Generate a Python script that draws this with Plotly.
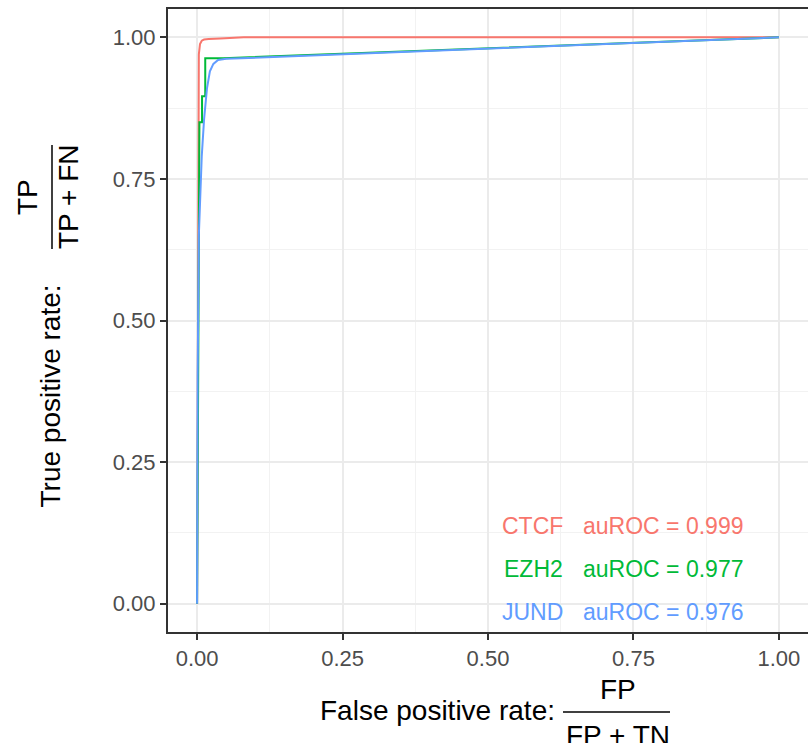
import plotly.graph_objects as go

# ---- data ----
CTCF_fpr = [0.0, 0.002, 0.003, 0.005, 0.008, 0.012, 0.02, 0.04, 0.08, 1.0]
CTCF_tpr = [0.0, 0.90, 0.97, 0.988, 0.994, 0.996, 0.997, 0.998, 1.0, 1.0]

EZH2_fpr = [0.0, 0.003, 0.004, 0.0085, 0.0085, 0.014, 0.014, 0.045, 1.0]
EZH2_tpr = [0.0, 0.60, 0.85, 0.85, 0.896, 0.896, 0.963, 0.963, 1.0]

JUND_fpr = [0.0, 0.001, 0.003, 0.005, 0.008, 0.012, 0.017, 0.022, 0.028, 0.036, 0.05, 1.0]
JUND_tpr = [0.0, 0.40, 0.65, 0.72, 0.79, 0.855, 0.91, 0.94, 0.953, 0.960, 0.962, 1.0]

series_names = ["CTCF", "EZH2", "JUND"]
auroc_values = ["0.999", "0.977", "0.976"]
label_y = [0.1375, 0.0606, -0.0154]
colors = ["#F8766D", "#00BA38", "#619CFF"]
tick_vals = [0.0, 0.25, 0.5, 0.75, 1.0]
tick_text = ["0.00", "0.25", "0.50", "0.75", "1.00"]

FONT = "Liberation Sans, Arial, sans-serif"
WIDTH, HEIGHT = 808, 743
L, R, T, B = 168, 0, 9, 111
PW = WIDTH - L - R
PH = HEIGHT - T - B


def px(xp):
    return (xp - L) / PW


def py(yp):
    return (HEIGHT - B - yp) / PH


fig = go.Figure()
for name, fx, ty, c in zip(series_names,
                           [CTCF_fpr, EZH2_fpr, JUND_fpr],
                           [CTCF_tpr, EZH2_tpr, JUND_tpr], colors):
    fig.add_trace(go.Scatter(x=fx, y=ty, mode="lines", name=name,
                             line=dict(color=c, width=2), showlegend=False))

axis_common = dict(
    range=[-0.05, 1.05], tickvals=tick_vals, ticktext=tick_text,
    showgrid=True, gridcolor="#EBEBEB", gridwidth=1.6,
    minor=dict(dtick=0.125, tick0=0.125, showgrid=True, gridcolor="#F2F2F2", gridwidth=1),
    ticks="outside", ticklen=6, tickwidth=1.5, tickcolor="#333333",
    tickfont=dict(family=FONT, size=22, color="#4D4D4D"),
    zeroline=False, showline=True, linecolor="#333333", linewidth=2,
)
fig.update_xaxes(**axis_common, mirror=True)
fig.update_yaxes(**axis_common, mirror=False)

ann = []
for name, auc, yv, c in zip(series_names, auroc_values, label_y, colors):
    ann.append(dict(x=0.628, y=yv, xref="x", yref="y", text=name, showarrow=False,
                    xanchor="right", yanchor="middle", xshift=3,
                    font=dict(family=FONT, size=23, color=c)))
    ann.append(dict(x=0.664, y=yv, xref="x", yref="y", text="auROC = " + auc, showarrow=False,
                    xanchor="left", yanchor="middle", xshift=-2,
                    font=dict(family=FONT, size=23, color=c)))

tf = dict(family=FONT, size=28, color="black")
# x axis title with fraction
ann.append(dict(x=px(437.5), y=py(710), xref="paper", yref="paper", text="False positive rate:",
                showarrow=False, xanchor="center", yanchor="middle", font=tf))
ann.append(dict(x=px(617.5), y=py(689), xref="paper", yref="paper", text="FP",
                showarrow=False, xanchor="center", yanchor="middle", font=tf))
ann.append(dict(x=px(617.5), y=py(735), xref="paper", yref="paper", text="FP + TN",
                showarrow=False, xanchor="center", yanchor="middle", font=tf))
# y axis title with fraction
ann.append(dict(x=px(50), y=py(396.5), xref="paper", yref="paper", text="True positive rate:",
                showarrow=False, xanchor="center", yanchor="middle", textangle=-90, font=tf))
ann.append(dict(x=px(28), y=py(197), xref="paper", yref="paper", text="TP",
                showarrow=False, xanchor="center", yanchor="middle", textangle=-90, font=tf))
ann.append(dict(x=px(69), y=py(197), xref="paper", yref="paper", text="TP + FN",
                showarrow=False, xanchor="center", yanchor="middle", textangle=-90, font=tf))

shapes = [
    dict(type="line", xref="paper", yref="paper", x0=px(563), x1=px(670), y0=py(712), y1=py(712),
         line=dict(color="black", width=1.5)),
    dict(type="line", xref="paper", yref="paper", x0=px(52), x1=px(52), y0=py(145), y1=py(249),
         line=dict(color="black", width=1.5)),
]

fig.update_layout(
    width=WIDTH, height=HEIGHT,
    margin=dict(l=L, r=R, t=T, b=B, pad=0),
    paper_bgcolor="white", plot_bgcolor="white",
    annotations=ann, shapes=shapes,
    font=dict(family=FONT),
)

fig.write_html("out.html")
